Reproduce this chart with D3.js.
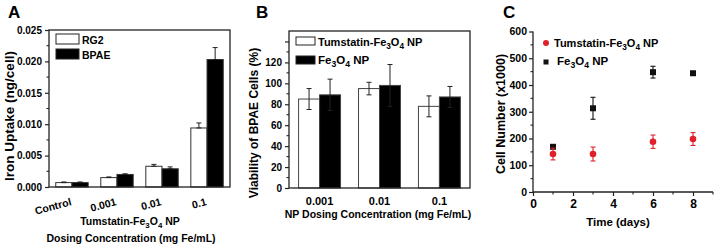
<!DOCTYPE html>
<html>
<head>
<meta charset="utf-8">
<script src="https://cdn.jsdelivr.net/npm/d3@7"></script>
<style>
body { margin: 0; background: #fff; }
text { font-family: "Liberation Sans", Arial, sans-serif; font-weight: bold; fill: #000; }
.axis path { display: none; }
.axis line { stroke: #222; stroke-width: 1.2; }
</style>
</head>
<body>
<script>
// panel A - iron uptake
var catA = ["Control", "0.001", "0.01", "0.1"];
var rg2 = [0.0007, 0.0015, 0.0033, 0.0094];
var rg2Err = [0.0001, 0.0001, 0.0003, 0.0008];
var bpae = [0.0007, 0.0020, 0.0029, 0.0203];
var bpaeErr = [0.0001, 0.0001, 0.0003, 0.0019];
var ticksA = [0, 0.005, 0.010, 0.015, 0.020, 0.025];

// panel B - viability
var catB = ["0.001", "0.01", "0.1"];
var tumB = [85, 95, 78];
var tumBErr = [10, 6, 10];
var feB = [89, 98, 87];
var feBErr = [15, 20, 10];
var ticksB = [0, 20, 40, 60, 80, 100, 120];

// panel C - cell number
var days = [1, 3, 6, 8];
var tumC = [142, 142, 188, 198];
var tumCErr = [22, 26, 25, 24];
var feC = [169, 313, 448, 444];
var feCErr = [5, 41, 22, 5];
var ticksCx = [0, 2, 4, 6, 8];
var ticksCy = [0, 100, 200, 300, 400, 500, 600];

const w = 718, h = 248;
const svg = d3.select("body").append("svg")
    .attr("width", w)
    .attr("height", h);

// text with subscripts, parts = [[str, isSub], ...]
var rich = function (t, parts, size) {
    var prev = false;
    parts.forEach(function (p) {
        var ts = t.append("tspan").text(p[0]);
        if (p[1] && !prev) ts.attr("dy", size * 0.3);
        if (!p[1] && prev) ts.attr("dy", -size * 0.3);
        if (p[1]) ts.attr("font-size", size * 0.75);
        prev = p[1];
    });
    return t;
};
var feParts = [["Fe", false], ["3", true], ["O", false], ["4", true], [" NP", false]];
var tumParts = [["Tumstatin-", false]].concat(feParts);

var frame = function (x0, y0, x1, y1) {
    svg.append("rect")
        .attr("x", x0).attr("y", y0)
        .attr("width", x1 - x0).attr("height", y1 - y0)
        .attr("fill", "none").attr("stroke", "#222").attr("stroke-width", 1.3);
};

var minorY = function (scale, x, vals) {
    svg.append("g").selectAll("line").data(vals).enter().append("line")
        .attr("x1", x).attr("x2", x - 2.5)
        .attr("y1", (d) => scale(d)).attr("y2", (d) => scale(d))
        .attr("stroke", "#222").attr("stroke-width", 1.1);
};

var errBar = function (g, cx, yTop, yBot, cap) {
    g.append("line").attr("x1", cx).attr("x2", cx).attr("y1", yTop).attr("y2", yBot);
    g.append("line").attr("x1", cx - cap).attr("x2", cx + cap).attr("y1", yTop).attr("y2", yTop);
    g.append("line").attr("x1", cx - cap).attr("x2", cx + cap).attr("y1", yBot).attr("y2", yBot);
};

// ---------- A ----------
var xA = d3.scaleBand().domain(catA).range([49, 230]).paddingInner(0.28).paddingOuter(0.15);
var xA1 = d3.scaleBand().domain([0, 1]).range([0, xA.bandwidth()]);
var yA = d3.scaleLinear().domain([0, 0.025]).range([187, 30]);

svg.append("g").attr("class", "axis")
    .attr("transform", "translate(49,0)")
    .call(d3.axisLeft(yA).tickValues(ticksA).tickFormat(d3.format(".3f")).tickSize(4).tickPadding(3))
    .selectAll("text").attr("font-size", 10);
minorY(yA, 49, [0.0025, 0.0075, 0.0125, 0.0175, 0.0225]);

var seriesA = [[rg2, rg2Err, "#fff"], [bpae, bpaeErr, "#000"]];
seriesA.forEach(function (s, k) {
    svg.append("g").selectAll("rect").data(catA).enter().append("rect")
        .attr("x", (d) => xA(d) + xA1(k))
        .attr("y", (d, i) => yA(s[0][i]))
        .attr("width", xA1.bandwidth())
        .attr("height", (d, i) => yA(0) - yA(s[0][i]))
        .attr("fill", s[2]).attr("stroke", "#333").attr("stroke-width", 1);
    var g = svg.append("g").attr("stroke", "#222").attr("stroke-width", 1);
    catA.forEach(function (c, i) {
        var cx = xA(c) + xA1(k) + xA1.bandwidth() / 2;
        errBar(g, cx, yA(s[0][i] + s[1][i]), yA(s[0][i]), 2.5);
    });
});
frame(49, 30, 230, 187);

svg.append("g").selectAll("text").data(catA).enter().append("text")
    .attr("transform", (d) => "translate(" + (xA(d) + xA.bandwidth() / 2) + ",205) rotate(-15)")
    .attr("text-anchor", "end").attr("font-size", 10.5)
    .text((d) => d);

// legend A
[["RG2", "#fff", 34], ["BPAE", "#000", 49]].forEach(function (l) {
    svg.append("rect").attr("x", 56).attr("y", l[2]).attr("width", 23).attr("height", 10)
        .attr("fill", l[1]).attr("stroke", "#222").attr("stroke-width", 1);
    svg.append("text").attr("x", 82).attr("y", l[2] + 9.5).attr("font-size", 10.5).text(l[0]);
});

rich(svg.append("text").attr("x", 130).attr("y", 225).attr("text-anchor", "middle").attr("font-size", 10.5), tumParts, 10.5);
svg.append("text").attr("x", 131).attr("y", 242).attr("text-anchor", "middle").attr("font-size", 10.5)
    .text("Dosing Concentration (mg Fe/mL)");
svg.append("text").attr("transform", "translate(14,116) rotate(-90)")
    .attr("text-anchor", "middle").attr("font-size", 13.5).text("Iron Uptake (ng/cell)");
svg.append("text").attr("x", 8).attr("y", 18).attr("font-size", 17).text("A");

// ---------- B ----------
var xB = d3.scaleBand().domain(catB).range([289, 470]).paddingInner(0.3).paddingOuter(0.16);
var xB1 = d3.scaleBand().domain([0, 1]).range([0, xB.bandwidth()]);
var yB = d3.scaleLinear().domain([0, 150]).range([188, 31]);

svg.append("g").attr("class", "axis")
    .attr("transform", "translate(289,0)")
    .call(d3.axisLeft(yB).tickValues(ticksB.concat([140])).tickFormat((d) => d > 120 ? "" : d).tickSize(4).tickPadding(3))
    .selectAll("text").attr("font-size", 10);
minorY(yB, 289, [10, 30, 50, 70, 90, 110, 130]);

var seriesB = [[tumB, tumBErr, "#fff"], [feB, feBErr, "#000"]];
seriesB.forEach(function (s, k) {
    svg.append("g").selectAll("rect").data(catB).enter().append("rect")
        .attr("x", (d) => xB(d) + xB1(k))
        .attr("y", (d, i) => yB(s[0][i]))
        .attr("width", xB1.bandwidth())
        .attr("height", (d, i) => yB(0) - yB(s[0][i]))
        .attr("fill", s[2]).attr("stroke", "#444").attr("stroke-width", 1);
    var g = svg.append("g").attr("stroke", "#222").attr("stroke-width", 1);
    catB.forEach(function (c, i) {
        var cx = xB(c) + xB1(k) + xB1.bandwidth() / 2;
        errBar(g, cx, yB(s[0][i] + s[1][i]), yB(s[0][i] - s[1][i]), 2.5);
    });
});
frame(289, 31, 470, 188);

svg.append("g").selectAll("text").data(catB).enter().append("text")
    .attr("x", (d) => xB(d) + xB.bandwidth() / 2).attr("y", 205)
    .attr("text-anchor", "middle").attr("font-size", 11)
    .text((d) => d);

svg.append("rect").attr("x", 296).attr("y", 37).attr("width", 19).attr("height", 8)
    .attr("fill", "#fff").attr("stroke", "#222").attr("stroke-width", 1);
rich(svg.append("text").attr("x", 318).attr("y", 46).attr("font-size", 11), tumParts, 11);
svg.append("rect").attr("x", 296).attr("y", 56).attr("width", 19).attr("height", 8)
    .attr("fill", "#000").attr("stroke", "#222").attr("stroke-width", 1);
rich(svg.append("text").attr("x", 318).attr("y", 64).attr("font-size", 11.5), feParts, 11.5);

svg.append("text").attr("x", 378).attr("y", 218).attr("text-anchor", "middle").attr("font-size", 10.5)
    .text("NP Dosing Concentration (mg Fe/mL)");
svg.append("text").attr("transform", "translate(258,123) rotate(-90)")
    .attr("text-anchor", "middle").attr("font-size", 12).text("Viability of BPAE Cells (%)");
svg.append("text").attr("x", 256).attr("y", 18).attr("font-size", 17).text("B");

// ---------- C ----------
var xC = d3.scaleLinear().domain([0, 9]).range([533, 713]);
var yC = d3.scaleLinear().domain([0, 600]).range([192, 31.5]);

svg.append("g").attr("class", "axis")
    .attr("transform", "translate(533,0)")
    .call(d3.axisLeft(yC).tickValues(ticksCy).tickSize(4).tickPadding(2))
    .selectAll("text").attr("font-size", 10.5);
minorY(yC, 533, [50, 150, 250, 350, 450, 550]);
svg.append("g").attr("class", "axis")
    .attr("transform", "translate(0,192)")
    .call(d3.axisBottom(xC).tickValues(ticksCx).tickSize(4).tickPadding(3))
    .selectAll("text").attr("font-size", 12);
svg.append("g").selectAll("line").data([1, 3, 5, 7, 9]).enter().append("line")
    .attr("x1", (d) => xC(d)).attr("x2", (d) => xC(d))
    .attr("y1", 192).attr("y2", 194.5)
    .attr("stroke", "#222").attr("stroke-width", 1.1);
svg.append("line").attr("x1", 533).attr("x2", 713).attr("y1", 192).attr("y2", 192)
    .attr("stroke", "#222").attr("stroke-width", 1.3);
svg.append("line").attr("x1", 533).attr("x2", 533).attr("y1", 31.5).attr("y2", 192)
    .attr("stroke", "#222").attr("stroke-width", 1.3);

var red = "#e0202a";
var gf = svg.append("g").attr("stroke", "#111").attr("stroke-width", 1.1);
days.forEach(function (d, i) {
    errBar(gf, xC(d), yC(feC[i] + feCErr[i]), yC(feC[i] - feCErr[i]), 2.5);
});
svg.append("g").selectAll("rect").data(days).enter().append("rect")
    .attr("x", (d) => xC(d) - 3).attr("y", (d, i) => yC(feC[i]) - 3)
    .attr("width", 6).attr("height", 6).attr("fill", "#111");
var gt = svg.append("g").attr("stroke", red).attr("stroke-width", 1.1);
days.forEach(function (d, i) {
    errBar(gt, xC(d), yC(tumC[i] + tumCErr[i]), yC(tumC[i] - tumCErr[i]), 2.5);
});
svg.append("g").selectAll("circle").data(days).enter().append("circle")
    .attr("cx", (d) => xC(d)).attr("cy", (d, i) => yC(tumC[i]))
    .attr("r", 3.3).attr("fill", red);

svg.append("circle").attr("cx", 546).attr("cy", 43).attr("r", 3).attr("fill", red);
rich(svg.append("text").attr("x", 554).attr("y", 47).attr("font-size", 11), tumParts, 11);
svg.append("rect").attr("x", 543.5).attr("y", 59.5).attr("width", 5).attr("height", 5).attr("fill", "#111");
rich(svg.append("text").attr("x", 557).attr("y", 65).attr("font-size", 11.5), feParts, 11.5);

svg.append("text").attr("x", 618).attr("y", 226).attr("text-anchor", "middle").attr("font-size", 11.5)
    .text("Time (days)");
svg.append("text").attr("transform", "translate(505,114) rotate(-90)")
    .attr("text-anchor", "middle").attr("font-size", 12.5).text("Cell Number (x1000)");
svg.append("text").attr("x", 503).attr("y", 18).attr("font-size", 17).text("C");
</script>
</body>
</html>
